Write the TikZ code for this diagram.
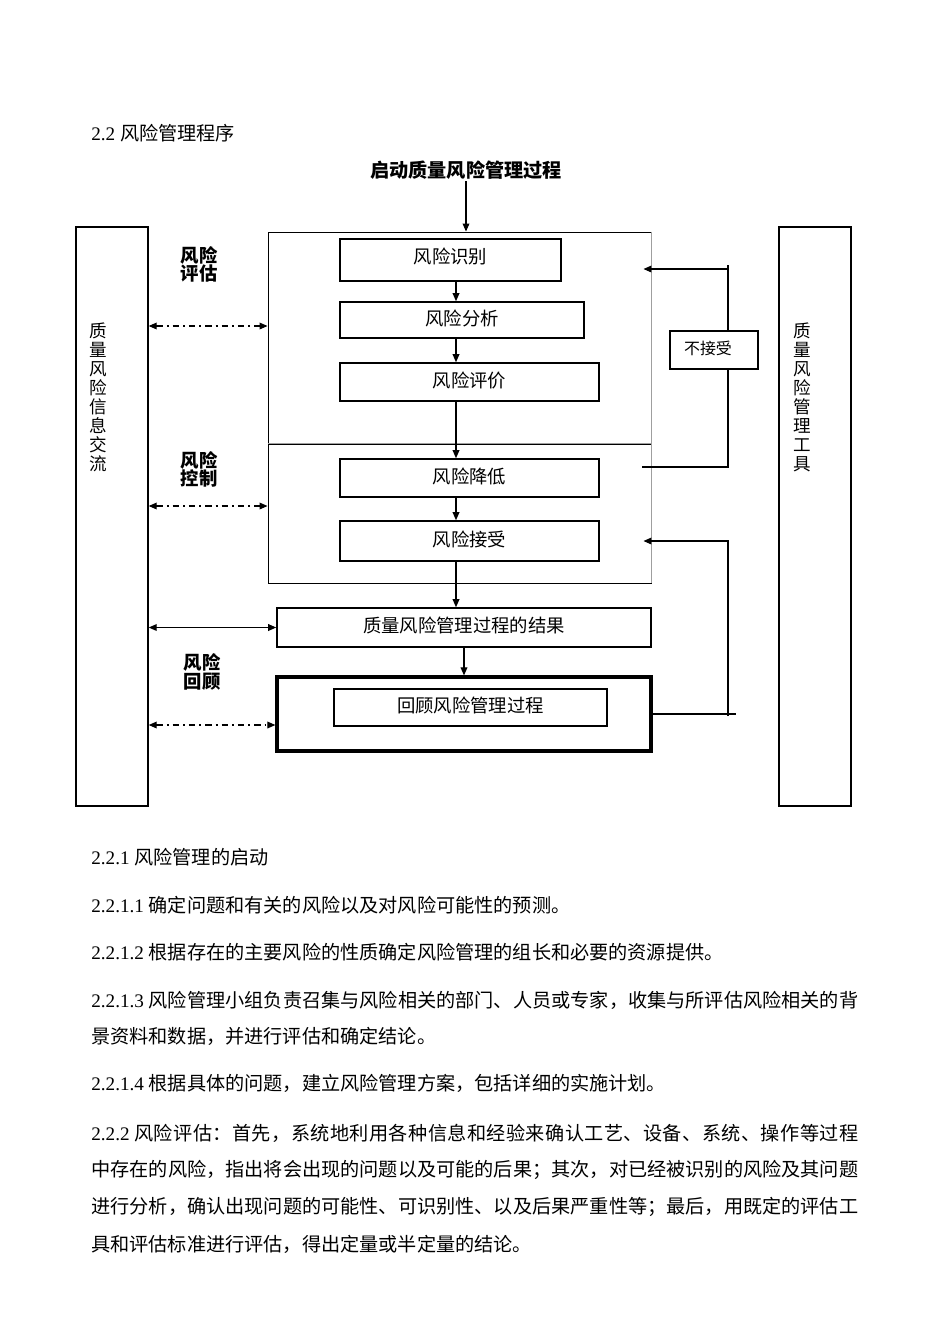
\documentclass[tikz,border=0pt]{standalone}
\usepackage{fontspec}
\setmainfont{Liberation Serif}
\newfontfamily\cjk{Noto Sans CJK SC}
\usetikzlibrary{arrows.meta}
\newlength\px \setlength\px{0.6263pt}
\makeatletter
\newcommand\spr[1]{\@tfor\sprx:=#1\do{\sprx\hskip 0pt plus 1fil minus 1pt}\unskip}
\makeatother
\begin{document}
\begin{tikzpicture}[x=0.6263pt,y=-0.6263pt,
 boxs/.style={draw, line width=1pt, inner sep=0pt, text depth=0.32em, font=\cjk\fontsize{11.5}{13}\selectfont},
 frame/.style={draw, line width=0.6pt, inner sep=0pt},
 tall/.style={draw, line width=0.9pt, minimum width=72\px, minimum height=579\px, inner sep=0pt},
 vtext/.style={font=\cjk\fontsize{11}{11.9}\selectfont, align=center, inner sep=0pt},
 lbl/.style={font=\cjk\bfseries\fontsize{11.5}{11.3}\selectfont, align=center, inner sep=0pt},
 body/.style={anchor=west, inner sep=0pt, font=\fontsize{12}{14}\selectfont},
 arr/.style={-{Triangle[length=5pt,width=4.2pt]}, line width=0.7pt},
 darr/.style={{Triangle[length=5pt,width=4.2pt]}-{Triangle[length=5pt,width=4.2pt]}, line width=0.7pt},
 plain/.style={line width=0.7pt},
 dd/.style={dash pattern=on 4pt off 2.5pt on 1.2pt off 2.5pt}]
\useasboundingbox (0,0) rectangle (950,1344);
\fill[white] (0,0) rectangle (950,1344);

% heading
\node[body] (h22) at (91,133) {2.2 {\cjk 风险管理程序}};
\node[font=\cjk\bfseries\fontsize{12}{14}\selectfont, inner sep=1pt] (start) at (466,170) {启动质量风险管理过程};

% frames
\node[frame, minimum width=383\px, minimum height=212\px] (assess) at (459.5,338) {};
\node[frame, minimum width=383\px, minimum height=139\px] (control) at (459.5,513.5) {};
\draw[gray!75, line width=0.8pt] (control.north west) -- (control.north east);
\draw[gray!75, line width=0.8pt] (assess.north east) -- (control.south east);

% boxes
\node[boxs, minimum width=221\px, minimum height=42\px, text depth=0.5em] (id) at (450.5,260) {风险识别};
\node[boxs, minimum width=244\px, minimum height=36\px] (an) at (462,320) {风险分析};
\node[boxs, minimum width=259\px, minimum height=38\px] (ev) at (469.5,382) {风险评价};
\node[boxs, minimum width=259\px, minimum height=38\px] (red) at (469.5,478) {风险降低};
\node[boxs, minimum width=259\px, minimum height=40\px] (acc) at (469.5,541) {风险接受};
\node[boxs, minimum width=374\px, minimum height=39\px] (res) at (464,627.5) {质量风险管理过程的结果};
\node[draw, line width=2pt, minimum width=374\px, minimum height=74\px, inner sep=0pt] (revout) at (464,714) {};
\node[boxs, minimum width=273\px, minimum height=37\px] (revin) at (470.5,707.5) {回顾风险管理过程};
\node[draw, line width=0.7pt, minimum width=88\px, minimum height=38\px, inner sep=0pt, text depth=0.3em, font=\cjk\fontsize{10}{12}\selectfont] (rej) at (714,350) {不接受\hspace*{12\px}};

% side boxes
\node[tall] (left) at (112,516.5) {};
\node[vtext] (lefttxt) at (98,397) {质\\量\\风\\险\\信\\息\\交\\流};
\node[tall] (right) at (815,516.5) {};
\node[vtext] (righttxt) at (802,397) {质\\量\\风\\险\\管\\理\\工\\具};

% stage labels
\node[lbl] (la) at (199,264.5) {风险\\评估};
\node[lbl] (lc) at (199,469) {风险\\控制};
\node[lbl] (lr) at (202,672) {风险\\回顾};

% main flow
\coordinate (spine) at (456,0);
\draw[arr] (start.south) -- (start.south |- assess.north);
\draw[arr] (id.south -| spine) -- (an.north -| spine);
\draw[arr] (an.south -| spine) -- (ev.north -| spine);
\draw[arr] (ev.south -| spine) -- (red.north -| spine);
\draw[arr] (red.south -| spine) -- (acc.north -| spine);
\draw[arr] (acc.south -| spine) -- (res.north -| spine);
\draw[arr] (res.south) -- (revout.north);

% feedback loops
\coordinate (fb) at (728,0);
\coordinate (fbt) at (728,265);
\coordinate (fba) at (728,269);
\coordinate (fbm) at (728,467);
\coordinate (fbe) at (736,714);
\draw[plain] (rej.north -| fb) -- (fbt);
\draw[arr] (fba) -- ([xshift=-8\px]assess.east |- fba);
\draw[plain] (rej.south -| fb) -- (fbm) -- ([xshift=-9\px]control.east |- fbm);
\draw[plain] (revout.east) -- (fbe |- revout.east);
\draw[arr] ([yshift=-2\px]fb |- revout.east) -- (fb |- acc.east) -- ([xshift=-8\px]control.east |- acc.east);

% communication arrows
\coordinate (ya) at (0,326);
\coordinate (yc) at (0,506);
\coordinate (yr) at (0,725);
\draw[darr,dd] (left.east |- ya) -- (assess.west |- ya);
\draw[darr,dd] (left.east |- yc) -- (control.west |- yc);
\draw[darr] (left.east |- res.west) -- (res.west);
\draw[darr,dd] (left.east |- yr) -- (revout.west |- yr);

% body text
\node[body] (p1) at (91,857) {2.2.1 {\cjk 风险管理的启动}};
\node[body] (p2) at (91,905) {2.2.1.1 {\cjk 确定问题和有关的风险以及对风险可能性的预测。}};
\node[body] (p3) at (91,952) {2.2.1.2 {\cjk 根据存在的主要风险的性质确定风险管理的组长和必要的资源提供。}};
\node[body] (p4) at (91,1000) {\makebox[767\px][s]{2.2.1.3\ {\cjk\spr{风险管理小组负责召集与风险相关的部门、人员或专家，收集与所评估风险相关的背}}}};
\node[body] (p4b) at (91,1036) {\cjk 景资料和数据，并进行评估和确定结论。};
\node[body] (p5) at (91,1083) {2.2.1.4 {\cjk 根据具体的问题，建立风险管理方案，包括详细的实施计划。}};
\node[body] (p6) at (91,1133) {\makebox[767\px][s]{2.2.2\ {\cjk\spr{风险评估：首先，系统地利用各种信息和经验来确认工艺、设备、系统、操作等过程}}}};
\node[body] (p6b) at (91,1170) {\makebox[767\px][s]{\cjk\spr{中存在的风险，指出将会出现的问题以及可能的后果；其次，对已经被识别的风险及其问题}}};
\node[body] (p6c) at (91,1207) {\makebox[767\px][s]{\cjk\spr{进行分析，确认出现问题的可能性、可识别性、以及后果严重性等；最后，用既定的评估工}}};
\node[body] (p6d) at (91,1244) {\cjk 具和评估标准进行评估，得出定量或半定量的结论。};
\end{tikzpicture}
\end{document}
